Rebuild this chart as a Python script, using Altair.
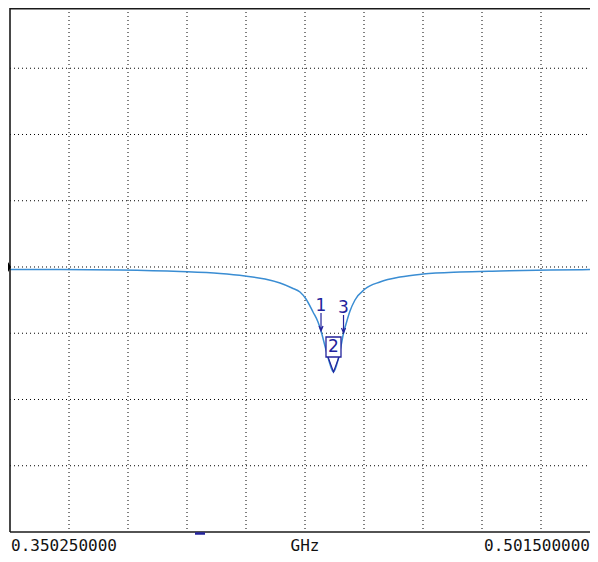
import altair as alt
import pandas as pd

# ---- data ----
start_ghz = 0.35025
stop_ghz = 0.5015
start_label = "0.350250000"
stop_label = "0.501500000"
unit_label = "GHz"

freq = [0.35025, 0.36307, 0.37845, 0.39383, 0.40409, 0.41050, 0.41562, 0.41947,
        0.42254, 0.42459, 0.42613, 0.42793, 0.42921, 0.42998, 0.43100, 0.43203,
        0.43318, 0.43434, 0.43511, 0.43575, 0.43639, 0.43741, 0.43869, 0.44126,
        0.44510, 0.45023, 0.45613, 0.46561, 0.47587, 0.48868, 0.50099]
level = [-0.38, -0.38, -0.45, -0.68, -0.98, -1.36, -1.81, -2.42,
         -3.17, -3.77, -4.83, -6.79, -8.30, -9.66, -11.92, -14.19,
         -15.85, -14.04, -11.92, -9.96, -8.60, -6.64, -4.98, -3.32,
         -2.26, -1.51, -1.06, -0.75, -0.60, -0.45, -0.38]

marker_id = ["1", "2", "3"]
marker_freq = [0.42998, 0.43318, 0.43575]
marker_level = [-9.66, -15.85, -9.96]

ref_level = [0.0]
stim_freq = [0.39896]

y_min, y_max = -40.0, 39.094
y_grid = [-30, -20, -10, 0, 10, 20, 30]
n_div = 10
x_grid = [start_ghz + k * (stop_ghz - start_ghz) / n_div for k in range(1, n_div)]

# ---- layout / styling ----
W, H = 580, 524                     # plot area (page x 10..590, y 8..532)
PX_PER_GHZ = 590 / (stop_ghz - start_ghz)
visible_stop = start_ghz + W / PX_PER_GHZ
TRACE = "#3a8dd3"
NAVY = "#23239c"
BORDER = "#1a1a1a"
MONO = "DejaVu Sans Mono"

trace_df = pd.DataFrame({"f": freq, "db": level})
mk_df = pd.DataFrame({"id": marker_id, "f": marker_freq, "db": marker_level})

xs = alt.Scale(domain=[start_ghz, visible_stop], nice=False, zero=False)
ys = alt.Scale(domain=[y_min, y_max], nice=False, zero=False)


def X():
    return alt.X("f:Q", scale=xs, axis=None)


def Y():
    return alt.Y("db:Q", scale=ys, axis=None)


# dotted graticule
vgrid = alt.Chart(pd.DataFrame({"f": x_grid})).mark_rule(
    color="#000000", strokeWidth=1, strokeDash=[1, 3]
).encode(x=X(), y=alt.value(0), y2=alt.value(H))
hgrid = alt.Chart(pd.DataFrame({"db": y_grid})).mark_rule(
    color="#000000", strokeWidth=1, strokeDash=[1, 3]
).encode(y=Y(), x=alt.value(0), x2=alt.value(W))

one = pd.DataFrame({"a": [0]})
top_border = alt.Chart(one).mark_rule(color=BORDER, strokeWidth=1.6).encode(
    y=alt.value(0.8), x=alt.value(0), x2=alt.value(W))
bottom_border = alt.Chart(one).mark_rule(color=BORDER, strokeWidth=1.6).encode(
    y=alt.value(H), x=alt.value(0), x2=alt.value(W))
left_border = alt.Chart(one).mark_rule(color=BORDER, strokeWidth=1.6).encode(
    x=alt.value(0), y=alt.value(0), y2=alt.value(H))

# the window edge cuts the trace, as in the reference
trace = alt.Chart(trace_df).mark_line(
    color=TRACE, strokeWidth=1.5, interpolate="monotone"
).encode(x=X(), y=Y())

ref_arrow = alt.Chart(pd.DataFrame({"f": [start_ghz], "db": ref_level})).mark_point(
    shape="M-2,-5L1,0L-2,5Z", size=4, filled=True, color="#000000", opacity=1
).encode(x=X(), y=Y())

stim = alt.Chart(pd.DataFrame({"f": stim_freq, "db": [y_min]})).mark_point(
    shape="M-5,1.5L5,1.5", size=4, filled=False, color=NAVY, strokeWidth=2.5, opacity=1
).encode(x=X(), y=Y())

side = alt.Chart(mk_df).transform_filter("datum.id != '2'")
side_arrows = side.mark_point(
    shape="M0,-18L0,0M-2,-5L0,0L2,-5", size=4, filled=False, color=NAVY, strokeWidth=1.2, opacity=1
).encode(x=X(), y=Y())
side_text = side.mark_text(font="DejaVu Sans", fontSize=17, color=NAVY, dy=-25, baseline="middle").encode(
    text="id:N", x=X(), y=Y())

mid = alt.Chart(mk_df).transform_filter("datum.id == '2'")
mid_tri = mid.mark_point(
    shape="M-5.5,-15L0,0L5.5,-15", size=4, filled=False, color=NAVY, strokeWidth=1.2, opacity=1
).encode(x=X(), y=Y())
mid_box = mid.mark_point(
    shape="M-7.5,-35L7.5,-35L7.5,-15L-7.5,-15Z", size=4, filled=True, fill="white",
    stroke=NAVY, strokeWidth=1.3, opacity=1
).encode(x=X(), y=Y())
mid_text = mid.mark_text(font="DejaVu Sans", fontSize=17, color=NAVY, dy=-25, baseline="middle").encode(
    text="id:N", x=X(), y=Y())

lab_y = alt.value(H + 14)
left_lab = alt.Chart(pd.DataFrame({"f": [start_ghz], "t": [start_label]})).mark_text(
    font=MONO, fontSize=16, color="#111111", align="left", baseline="middle", dx=1
).encode(x=X(), y=lab_y, text="t:N")
mid_lab = alt.Chart(pd.DataFrame({"f": [(start_ghz + stop_ghz) / 2], "t": [unit_label]})).mark_text(
    font=MONO, fontSize=16, color="#111111", align="center", baseline="middle"
).encode(x=X(), y=lab_y, text="t:N")
right_lab = alt.Chart(pd.DataFrame({"t": [stop_label]})).mark_text(
    font=MONO, fontSize=16, color="#111111", align="right", baseline="middle"
).encode(x=alt.value(W), y=lab_y, text="t:N")

chart = alt.layer(
    vgrid, hgrid, trace, top_border, bottom_border, left_border, ref_arrow, stim,
    side_arrows, side_text, mid_tri, mid_box, mid_text, left_lab, mid_lab, right_lab
).properties(
    width=W, height=H,
    padding={"left": 2, "top": 0, "right": 0, "bottom": 22},
    autosize=alt.AutoSizeParams(type="none"),
    background="white",
).configure_view(stroke="transparent", strokeWidth=0)

chart.save("out.html", embed_options={"renderer": "svg", "actions": False})
